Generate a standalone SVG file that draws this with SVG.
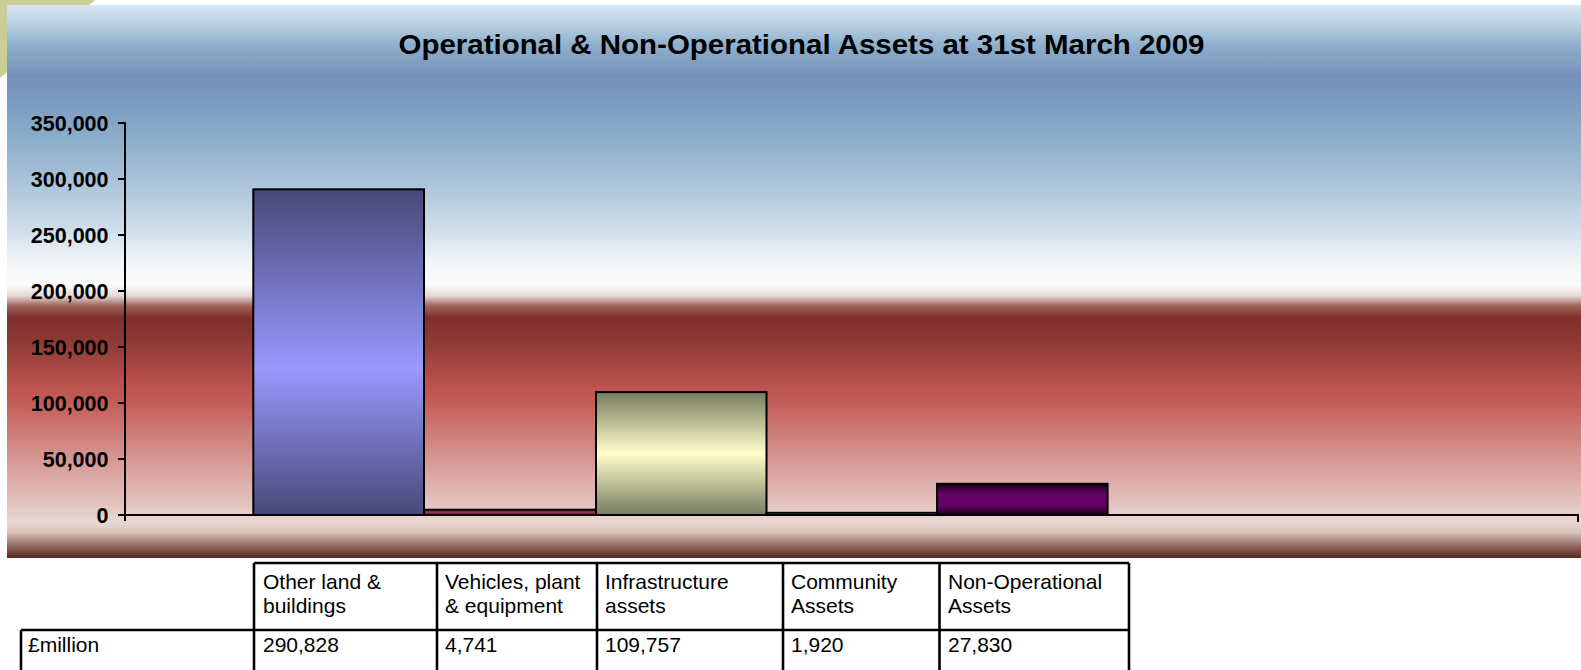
<svg xmlns="http://www.w3.org/2000/svg" width="1581" height="670" viewBox="0 0 1581 670">
<style>
.t{font-family:"Liberation Sans",Arial,sans-serif;fill:#000}
.title{font-size:27.5px;font-weight:bold}
.yl{font-size:21.5px;font-weight:bold;text-anchor:end}
.cell{font-size:21px}
.ax{stroke:#000;stroke-width:2;fill:none}
.bar{stroke:#000;stroke-width:2}
.tb{stroke:#000;stroke-width:2.6;fill:none}
</style>
<defs>
<linearGradient id="bg" x1="0" y1="0" x2="0" y2="1">
<stop offset="0" stop-color="#d8e6f1"/>
<stop offset="0.036" stop-color="#b8cfe1"/>
<stop offset="0.072" stop-color="#8fb0cc"/>
<stop offset="0.127" stop-color="#7690bb"/>
<stop offset="0.163" stop-color="#7a98c0"/>
<stop offset="0.226" stop-color="#86a9c7"/>
<stop offset="0.316" stop-color="#a8c2d8"/>
<stop offset="0.407" stop-color="#cfdeea"/>
<stop offset="0.465" stop-color="#f2f6f9"/>
<stop offset="0.506" stop-color="#fbfbfb"/>
<stop offset="0.526" stop-color="#e5d8d5"/>
<stop offset="0.544" stop-color="#a0625c"/>
<stop offset="0.566" stop-color="#7f2e2a"/>
<stop offset="0.606" stop-color="#8c3934"/>
<stop offset="0.678" stop-color="#b7504b"/>
<stop offset="0.714" stop-color="#c25a55"/>
<stop offset="0.769" stop-color="#cd7a75"/>
<stop offset="0.841" stop-color="#daa29e"/>
<stop offset="0.904" stop-color="#e4c4bf"/>
<stop offset="0.935" stop-color="#e9d8d2"/>
<stop offset="0.953" stop-color="#dcc4bd"/>
<stop offset="0.976" stop-color="#957067"/>
<stop offset="1" stop-color="#5a2820"/>
</linearGradient>
<linearGradient id="g1" x1="0" y1="0" x2="0" y2="1">
<stop offset="0" stop-color="#474877"/>
<stop offset="0.55" stop-color="#9999ff"/>
<stop offset="1" stop-color="#474877"/>
</linearGradient>
<linearGradient id="g2" x1="0" y1="0" x2="0" y2="1">
<stop offset="0" stop-color="#4a1a33"/>
<stop offset="0.5" stop-color="#993366"/>
<stop offset="1" stop-color="#4a1a33"/>
</linearGradient>
<linearGradient id="g3" x1="0" y1="0" x2="0" y2="1">
<stop offset="0" stop-color="#787c5f"/>
<stop offset="0.5" stop-color="#ffffcc"/>
<stop offset="1" stop-color="#787c5f"/>
</linearGradient>
<linearGradient id="g4" x1="0" y1="0" x2="0" y2="1">
<stop offset="0" stop-color="#3a4a4a"/>
<stop offset="0.5" stop-color="#ccffff"/>
<stop offset="1" stop-color="#3a4a4a"/>
</linearGradient>
<linearGradient id="g5" x1="0" y1="0" x2="0" y2="1">
<stop offset="0" stop-color="#1a001a"/>
<stop offset="0.3" stop-color="#600060"/>
<stop offset="0.5" stop-color="#660066"/>
<stop offset="0.7" stop-color="#600060"/>
<stop offset="1" stop-color="#1a001a"/>
</linearGradient>
</defs>
<rect x="0" y="0" width="1581" height="670" fill="#ffffff"/>
<polygon points="0,0 95,0 0,78" fill="#cccc96"/>
<g id="chart-area">
<rect x="7" y="5" width="1574" height="553" fill="url(#bg)"/>
</g>
<g id="title">
<text class="t title" x="398.5" y="54.3" textLength="806" lengthAdjust="spacingAndGlyphs">Operational &amp; Non-Operational Assets at 31st March 2009</text>
</g>
<g id="y-axis">
<path class="ax" d="M125,122 V521 M118,123 H125 M118,179 H125 M118,235 H125 M118,291 H125 M118,347 H125 M118,403 H125 M118,459 H125 M118,515 H125"/>
<text class="t yl" x="108.5" y="130.5">350,000</text>
<text class="t yl" x="108.5" y="186.5">300,000</text>
<text class="t yl" x="108.5" y="242.5">250,000</text>
<text class="t yl" x="108.5" y="298.5">200,000</text>
<text class="t yl" x="108.5" y="354.5">150,000</text>
<text class="t yl" x="108.5" y="410.5">100,000</text>
<text class="t yl" x="108.5" y="466.5">50,000</text>
<text class="t yl" x="108.5" y="522.5">0</text>
</g>
<g id="bar-other-land">
<rect class="bar" x="253.3" y="189.3" width="170.7" height="325.7" fill="url(#g1)"/>
</g>
<g id="bar-vehicles">
<rect class="bar" x="424" y="509.7" width="172" height="5.3" fill="url(#g2)"/>
</g>
<g id="bar-infrastructure">
<rect class="bar" x="596" y="392.1" width="170.5" height="122.9" fill="url(#g3)"/>
</g>
<g id="bar-community">
<rect class="bar" x="766.5" y="512.8" width="170.5" height="2.2" fill="url(#g4)"/>
</g>
<g id="bar-non-operational">
<rect class="bar" x="937" y="483.8" width="170.6" height="31.2" fill="url(#g5)"/>
</g>
<g id="x-axis">
<path class="ax" d="M125,515 H1578 V522"/>
</g>
<g id="table">
<path class="tb" d="M254,563 H1129 M21,630 H1129 M21,630 V672 M254,563 V672 M437,563 V672 M597,563 V672 M783,563 V672 M939.5,563 V672 M1129,563 V672"/>
<text class="t cell" x="263" y="589">Other land &amp;</text>
<text class="t cell" x="263" y="613">buildings</text>
<text class="t cell" x="445" y="589">Vehicles, plant</text>
<text class="t cell" x="445" y="613">&amp; equipment</text>
<text class="t cell" x="605" y="589">Infrastructure</text>
<text class="t cell" x="605" y="613">assets</text>
<text class="t cell" x="791" y="589">Community</text>
<text class="t cell" x="791" y="613">Assets</text>
<text class="t cell" x="948" y="589">Non-Operational</text>
<text class="t cell" x="948" y="613">Assets</text>
<text class="t cell" x="28" y="652">£million</text>
<text class="t cell" x="263" y="652">290,828</text>
<text class="t cell" x="445" y="652">4,741</text>
<text class="t cell" x="605" y="652">109,757</text>
<text class="t cell" x="791" y="652">1,920</text>
<text class="t cell" x="948" y="652">27,830</text>
</g>
</svg>
